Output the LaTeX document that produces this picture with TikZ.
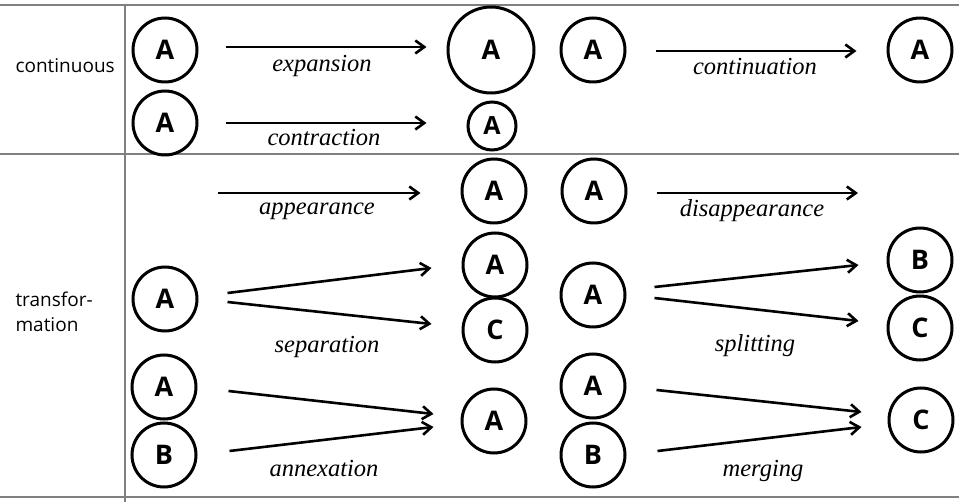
\documentclass[tikz,border=0pt]{standalone}
\usepackage{fontspec}
\setmainfont{Liberation Serif}
\newfontfamily\labsans{Open Sans}
\usetikzlibrary{arrows.meta}
\tikzset{
  grid/.style={draw=black!50, line width=1.3pt},
  ent/.style={circle, draw, line width=3pt, minimum size=64pt, inner sep=0pt,
    font=\labsans\bfseries\fontsize{27}{27}\selectfont},
  arr/.style={line width=2.6pt, -{Straight Barb[length=9pt,width=13pt,line width=2.6pt]}},
  proc/.style={font=\itshape\fontsize{24.5}{24.5}\selectfont, anchor=base},
  cat/.style={font=\labsans\fontsize{19}{24}\selectfont, anchor=base west}
}
\begin{document}
\begin{tikzpicture}[x=1pt,y=-1pt]
\useasboundingbox (0,0) rectangle (959,502);
% grid
\coordinate (g1) at (0,5); \coordinate (g2) at (959,5);
\coordinate (g3) at (0,154); \coordinate (g4) at (959,154);
\coordinate (g5) at (0,497); \coordinate (g6) at (959,497);
\coordinate (g7) at (125,5); \coordinate (g8) at (125,502);
\draw[grid] (g1) -- (g2);
\draw[grid] (g3) -- (g4);
\draw[grid] (g5) -- (g6);
\draw[grid] (g7) -- (g8);
% category labels
\node[cat] (tc) at (12,73) {continuous};
\node[cat] (tt1) at (12,307) {transfor-};
\node[cat] (tt2) at (12,332) {mation};
% expansion
\node[ent] (a1) at (165,50) {A};
\node[ent, minimum size=86pt] (a2) at (491,50) {A};
\draw[arr] ([shift={(27,-3)}]a1.east) -- ([shift={(-20,-3)}]a2.west);
\node[proc] (l1) at (322,72) {expansion};
% continuation
\node[ent] (a3) at (593,50) {A};
\node[ent] (a4) at (920,50) {A};
\draw[arr] ([shift={(29,1)}]a3.east) -- ([shift={(-30,1)}]a4.west);
\node[proc] (l2) at (755,75) {continuation};
% contraction
\node[ent] (a5) at (165,123) {A};
\node[ent, minimum size=48pt, font=\labsans\bfseries\fontsize{25}{25}\selectfont] (a6) at (492,126) {A};
\draw[arr] ([shift={(27,0)}]a5.east) -- ([shift={(-40,-3)}]a6.west);
\node[proc] (l3) at (324,146) {contraction};
% appearance
\coordinate (ap) at (218,193);
\node[ent] (a7) at (494,191) {A};
\draw[arr] (ap) -- ([shift={(-40,2)}]a7.west);
\node[proc] (l4) at (317,215) {appearance};
% disappearance
\node[ent] (a8) at (594,191) {A};
\coordinate (dp) at (858,193);
\draw[arr] ([shift={(29,2)}]a8.east) -- (dp);
\node[proc] (l5) at (752,217) {disappearance};
% separation
\node[ent] (a9) at (165,299) {A};
\node[ent] (a10) at (495,265) {A};
\node[ent] (c1) at (495,330) {C};
\draw[arr] ([shift={(29,-6)}]a9.east) -- ([shift={(-30,3)}]a10.west);
\draw[arr] ([shift={(29,3)}]a9.east) -- ([shift={(-30,-6)}]c1.west);
\node[proc] (l6) at (327,353) {separation};
% splitting
\node[ent] (a11) at (593,295) {A};
\node[ent] (b1) at (920,260) {B};
\node[ent] (c2) at (920,328) {C};
\draw[arr] ([shift={(28,-8)}]a11.east) -- ([shift={(-28,5)}]b1.west);
\draw[arr] ([shift={(28,3)}]a11.east) -- ([shift={(-28,-7)}]c2.west);
\node[proc] (l7) at (755,352) {splitting};
% annexation
\node[ent] (a12) at (164,387) {A};
\node[ent] (b2) at (164,455) {B};
\node[ent] (a13) at (494,421) {A};
\draw[arr] ([shift={(31,4)}]a12.east) -- ([shift={(-27,-7)}]a13.west);
\draw[arr] ([shift={(32,-4)}]b2.east) -- ([shift={(-27,6)}]a13.west);
\node[proc] (l8) at (324,477) {annexation};
% merging
\node[ent] (a14) at (593,386) {A};
\node[ent] (b3) at (593,455) {B};
\node[ent] (c3) at (921,420) {C};
\draw[arr] ([shift={(30,4)}]a14.east) -- ([shift={(-26,-8)}]c3.west);
\draw[arr] ([shift={(31,-4)}]b3.east) -- ([shift={(-26,7)}]c3.west);
\node[proc] (l9) at (763,477) {merging};
\end{tikzpicture}
\end{document}
